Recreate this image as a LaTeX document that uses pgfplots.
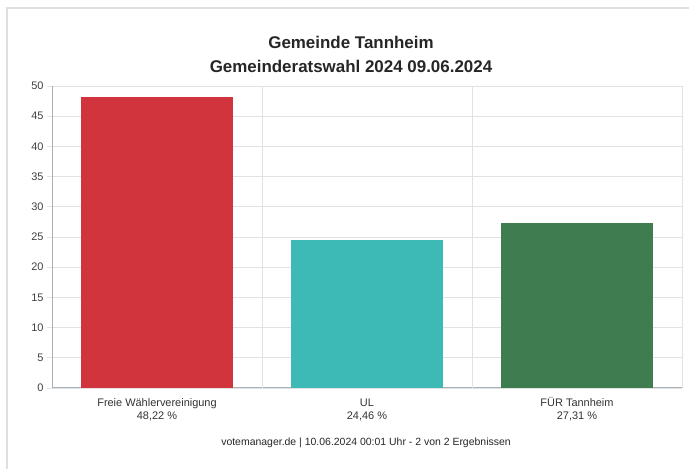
\documentclass[border=0pt]{standalone}
\usepackage{pgfplots}
\pgfplotsset{compat=1.18}
\usepackage{fontspec}
\setmainfont{Liberation Sans}
\definecolor{cred}{HTML}{D1343D}
\definecolor{cteal}{HTML}{3DBAB5}
\definecolor{cgreen}{HTML}{3F7D50}
\definecolor{gridc}{HTML}{E2E2E2}
\definecolor{axisc}{HTML}{A8B0B8}
\begin{document}
\begin{tikzpicture}
\path[use as bounding box] (0bp,0bp) rectangle (689bp,469bp);
\draw[color=gray!25, line width=1.2bp] (7bp,0bp) -- (7bp,461bp) -- (689bp,461bp);
\node[font=\bfseries\fontsize{17}{20}\selectfont, text=black!85] at (351bp,427bp) {Gemeinde Tannheim};
\node[font=\bfseries\fontsize{17}{20}\selectfont, text=black!85] at (351bp,403bp) {Gemeinderatswahl 2024 09.06.2024};
\node[font=\fontsize{10.5}{12}\selectfont, text=black!85] at (366bp,26bp) {votemanager.de | 10.06.2024 00:01 Uhr - 2 von 2 Ergebnissen};
\begin{axis}[
  at={(52bp,81bp)}, anchor=south west,
  scale only axis, width=630bp, height=302bp,
  xmin=-0.5, xmax=2.5, ymin=0, ymax=50,
  ytick={0,5,...,50},
  xtick={0,1,2},
  xticklabels={{\vphantom{Ü}Freie Wählervereinigung\\48,22 \%},{\vphantom{Ü}UL\\24,46 \%},{\vphantom{Ü}FÜR Tannheim\\27,31 \%}},
  xticklabel style={align=center, font=\fontsize{11}{13}\selectfont, text=black!80},
  yticklabel style={font=\fontsize{11}{13}\selectfont, text=black!75},
  /pgf/number format/assume math mode=true,
  x tick style={draw=none},
  extra x ticks={0.5,1.5,2.5},
  extra x tick labels={},
  extra x tick style={grid=major, major tick length=5bp, tick style={draw=gridc}},
  ymajorgrids,
  grid style={gridc, line width=0.8bp},
  axis lines*=left,
  axis line style={axisc, line width=1bp},
  y tick style={draw=gridc, line width=0.8bp},
  tick align=outside,
  major tick length=5bp,
  ybar, bar width=0.72, bar shift=0pt,
  xticklabel shift=1bp,
  yticklabel shift=0bp,
]
\addplot[fill=cred, draw=none] coordinates {(0,48.22)};
\addplot[fill=cteal, draw=none] coordinates {(1,24.46)};
\addplot[fill=cgreen, draw=none] coordinates {(2,27.31)};
\end{axis}
\end{tikzpicture}
\end{document}
